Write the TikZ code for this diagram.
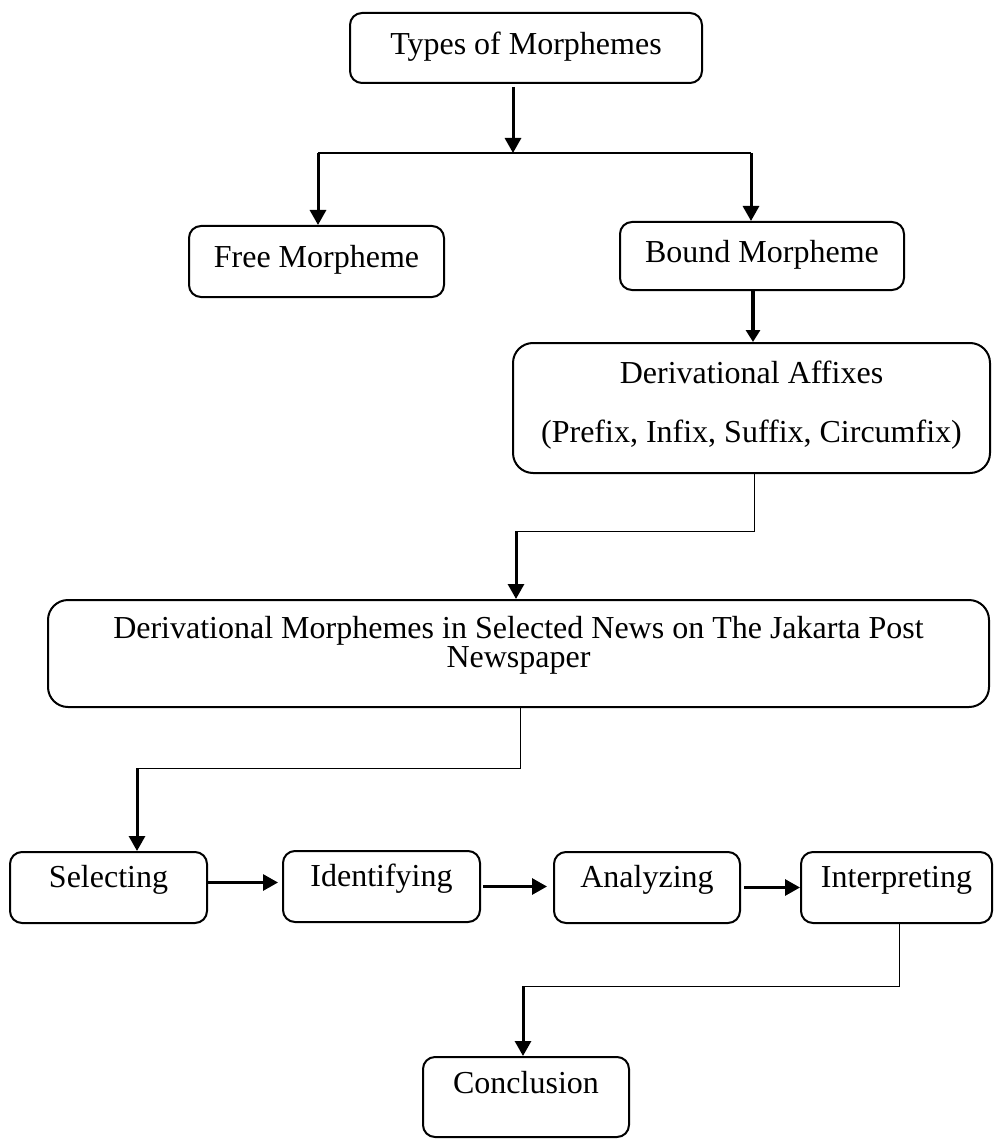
\documentclass[tikz,border=0pt]{standalone}
\usepackage{fontspec}
\setmainfont{Liberation Serif}
\usetikzlibrary{arrows.meta}
\newcommand\boxtext[3]{\raisebox{#1}[0pt][0pt]{\fontsize{16}{#2}\selectfont\begin{tabular}[t]{@{}c@{}}#3\end{tabular}}}
\begin{document}
\begin{tikzpicture}[x=0.5pt,y=-0.5pt,
  stepbox/.style={draw,line width=1pt,rounded corners=6pt,inner sep=0pt},
  bigbox/.style={stepbox,rounded corners=10pt},
  arr/.style={line width=1.5pt,-{Triangle[width=8pt,length=7.5pt]}},
  branch/.style={line width=1pt},
  thinline/.style={line width=0.5pt}]
\useasboundingbox (0,0) rectangle (996,1139);
% boxes
\node[stepbox,minimum width=176pt,minimum height=35pt] (types) at (526,48) {\boxtext{-3.5pt}{19pt}{Types of Morphemes}};
\node[stepbox,minimum width=127.5pt,minimum height=35.5pt] (free) at (316.5,261.5) {\boxtext{-2.75pt}{19pt}{Free Morpheme}};
\node[stepbox,minimum width=142pt,minimum height=34pt] (bound) at (762,256) {\boxtext{-3.5pt}{19pt}{Bound Morpheme}};
\node[bigbox,minimum width=238.5pt,minimum height=65pt] (deriv) at (751.5,408) {\boxtext{12.5pt}{29.5pt}{Derivational Affixes\\(Prefix, Infix, Suffix, Circumfix)}};
\node[bigbox,minimum width=470.5pt,minimum height=53.5pt] (big) at (518.5,653.5) {\boxtext{7.75pt}{14pt}{Derivational Morphemes in Selected News on The Jakarta Post\\Newspaper}};
\node[stepbox,minimum width=98.5pt,minimum height=35.5pt] (sel) at (108.5,887.5) {\boxtext{0pt}{19pt}{Selecting}};
\node[stepbox,minimum width=98.5pt,minimum height=35.5pt] (ide) at (381.5,886.5) {\boxtext{0pt}{19pt}{Identifying}};
\node[stepbox,minimum width=93pt,minimum height=35.5pt] (ana) at (647,887.5) {\boxtext{0pt}{19pt}{Analyzing}};
\node[stepbox,minimum width=95.5pt,minimum height=35.5pt] (int) at (896.5,887.5) {\boxtext{0pt}{19pt}{Interpreting}};
\node[stepbox,minimum width=103pt,minimum height=40pt] (conc) at (526,1097) {\boxtext{2pt}{19pt}{Conclusion}};
% junction coordinates
\coordinate (j0) at (513,153);
\coordinate (jL) at (318,153);
\coordinate (jR) at (751,153);
\coordinate (bd) at (753,290);
\coordinate (c1) at (754,531);
\coordinate (c2) at (516,531);
\coordinate (c3) at (520,768);
\coordinate (c4) at (137,768);
\coordinate (c5) at (899,986);
\coordinate (c6) at (523,986);
% connectors
\draw[arr] (types.south -| j0) ++(0,3) -- (j0);
\draw[branch] (jL) -- (jR);
\draw[arr] (jL) -- (free.north -| jL);
\draw[arr] (jR) -- (bound.north -| jR);
\draw[arr,line width=2pt,-{Triangle[width=7pt,length=6pt]}] (bd) -- (bd |- deriv.north);
\draw[thinline] (deriv.south -| c1) -- (c1) -- (c2);
\draw[arr] (c2) -- (c2 |- big.north);
\draw[thinline] (big.south -| c3) -- (c3) -- (c4);
\draw[arr] (c4) -- (c4 |- sel.north);
\draw[arr,shorten >=2pt] ([yshift=2.5pt]sel.east) -- ([yshift=2.5pt]sel.east -| ide.west);
\draw[arr,shorten >=3pt] ([xshift=1pt]ide.east) -- (ide.east -| ana.west);
\draw[arr] ([xshift=1.5pt]ana.east) -- (int.west);
\draw[thinline] (int.south -| c5) -- (c5) -- (c6);
\draw[arr] (c6) -- (c6 |- conc.north);
\end{tikzpicture}
\end{document}
